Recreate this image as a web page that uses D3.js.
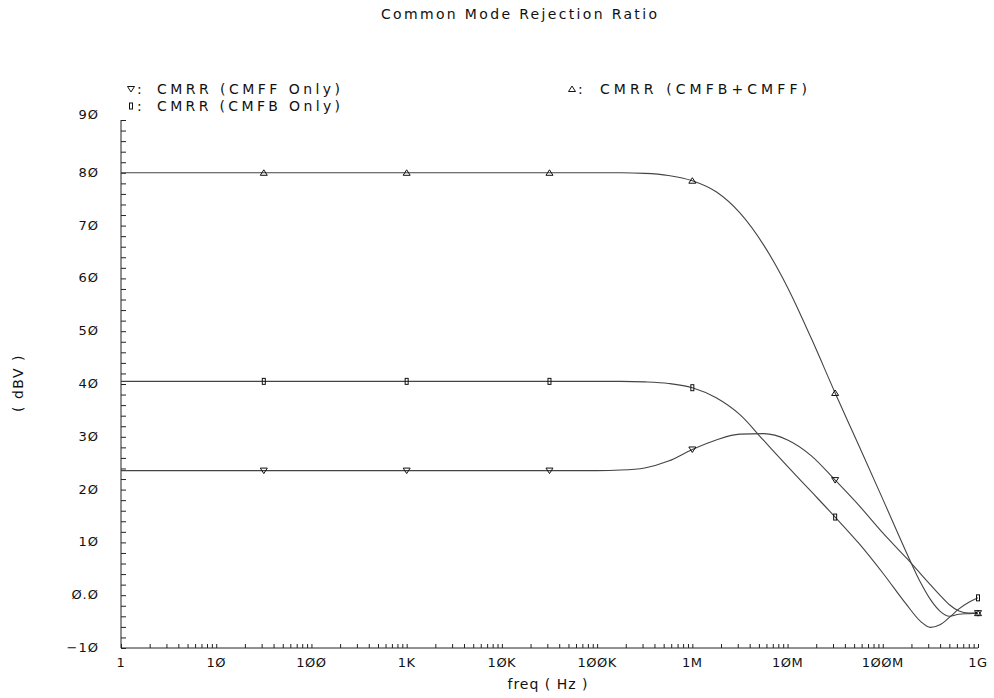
<!DOCTYPE html>
<html><head><meta charset="utf-8">
<script src="https://cdn.jsdelivr.net/npm/d3@7"></script>
<style>
html,body{margin:0;padding:0;background:#fff;}
svg{display:block;}
text{font-family:"DejaVu Sans",sans-serif;fill:#111;}
</style></head>
<body><svg id="c" width="994" height="698"></svg>
<script>
// ---- data ----
const freqs = [1, 31.6, 1e3, 3.16e4, 1e5, 1.78e5, 3.16e5, 5.62e5, 1e6, 1.78e6, 3.16e6, 5.62e6, 1e7, 1.78e7, 3.16e7, 5.62e7, 1e8, 1.78e8, 2.51e8, 3.16e8, 3.98e8, 5.01e8, 6.31e8, 7.94e8, 1e9];
const cmrrBoth = [80, 80, 80, 80, 80, 80, 79.9, 79.5, 78.5, 76.4, 72.4, 66.3, 58.3, 48.6, 38.3, 28.3, 18.2, 8.0, 2.3, -0.8, -3.0, -4.0, -3.6, -3.5, -3.4];
const cmrrCMFF = [23.6, 23.6, 23.6, 23.6, 23.6, 23.7, 24.1, 25.4, 27.6, 29.4, 30.5, 30.6, 29.4, 26.4, 21.8, 17.0, 11.8, 7.0, 4.0, 2.0, 0.0, -1.8, -3.0, -3.4, -3.4];
const cmrrCMFB = [40.5, 40.5, 40.5, 40.5, 40.5, 40.5, 40.4, 40.1, 39.3, 37.4, 34.2, 29.3, 24.4, 19.6, 14.8, 9.8, 4.2, -1.8, -5.0, -6.1, -5.6, -4.2, -2.6, -1.4, -0.5];
const markerFreqs = [31.6, 1e3, 3.16e4, 1e6, 3.16e7, 1e9];
const xTickVals = [1, 10, 100, 1e3, 1e4, 1e5, 1e6, 1e7, 1e8, 1e9];
const xTickLabels = ["1", "1Ø", "1ØØ", "1K", "1ØK", "1ØØK", "1M", "1ØM", "1ØØM", "1G"];
const yTickVals = [90, 80, 70, 60, 50, 40, 30, 20, 10, 0, -10];
const yTickLabels = ["9Ø", "8Ø", "7Ø", "6Ø", "5Ø", "4Ø", "3Ø", "2Ø", "1Ø", "Ø.Ø", "−1Ø"];
const seriesNames = ["CMRR (CMFF Only)", "CMRR (CMFB Only)", "CMRR (CMFB+CMFF)"];
const seriesMarkers = ["down", "rect", "up"];

const series = [
  {name: seriesNames[0], values: cmrrCMFF, marker: seriesMarkers[0]},
  {name: seriesNames[1], values: cmrrCMFB, marker: seriesMarkers[1]},
  {name: seriesNames[2], values: cmrrBoth, marker: seriesMarkers[2]}
];

const svg = d3.select("#c");
const x = d3.scaleLog().domain([1, 1e9]).range([121, 978]);
const y = d3.scaleLinear().domain([-10, 90]).range([648, 120]);
const lineCol = "#444";

// title
svg.append("text").attr("x", 381).attr("y", 19)
  .attr("textLength", 276).attr("lengthAdjust", "spacing")
  .style("font-size", "14px").text("Common Mode Rejection Ratio");

// axes
const yMinor = d3.range(-10, 90.1, 2);
const yAxis = d3.axisRight(y).tickValues(yMinor).tickSize(5).tickFormat("");
const gy = svg.append("g").attr("transform", "translate(121,0)").call(yAxis);
gy.select(".domain").attr("d", `M0,${y(90)}H0V${y(-10)}`);
gy.selectAll("line").attr("stroke", "#222");
gy.select(".domain").attr("stroke", "#222");

const xMinor = [];
for (let e = 0; e < 9; e++) for (let m = 1; m <= 9; m++) xMinor.push(m * Math.pow(10, e));
xMinor.push(1e9);
const xAxis = d3.axisTop(x).tickValues(xMinor).tickSize(4).tickFormat("");
const gx = svg.append("g").attr("transform", "translate(0,648)").call(xAxis);
gx.select(".domain").attr("d", `M${x(1)},0H${x(1e9)}`).attr("stroke", "#222");
gx.selectAll("line").attr("stroke", "#222");

// tick labels
svg.append("g").selectAll("text").data(yTickVals).join("text")
  .attr("x", 99).attr("y", (d, i) => y(d) + 4 - (i === 0 ? 5 : 0))
  .attr("text-anchor", "end").style("font-size", "13px").style("letter-spacing", "1px")
  .text((d, i) => yTickLabels[i]);
svg.append("g").selectAll("text").data(xTickVals).join("text")
  .attr("x", d => x(d)).attr("y", 667).attr("text-anchor", "middle")
  .style("font-size", "13px").style("letter-spacing", "0.5px")
  .text((d, i) => xTickLabels[i]);

// axis titles
svg.append("text").attr("x", 548).attr("y", 689).attr("text-anchor", "middle")
  .style("font-size", "14px").style("letter-spacing", "1px").text("freq ( Hz )");
svg.append("text").attr("transform", "translate(23,383) rotate(-90)").attr("text-anchor", "middle")
  .style("font-size", "14px").style("letter-spacing", "1.5px").text("( dBV )");

// lines
const line = d3.line().x((d, i) => x(freqs[i])).y(d => y(d)).curve(d3.curveMonotoneX);
svg.append("g").selectAll("path").data(series).join("path")
  .attr("d", s => line(s.values)).attr("fill", "none").attr("stroke", lineCol).attr("stroke-width", 1.1);

function drawMarker(g, type, cx, cy) {
  if (type === "up") {
    g.append("path").attr("d", `M${cx - 3.5},${cy + 2.5}L${cx},${cy - 3}L${cx + 3.5},${cy + 2.5}Z`);
  } else if (type === "down") {
    g.append("path").attr("d", `M${cx - 3.5},${cy - 2.5}L${cx},${cy + 3}L${cx + 3.5},${cy - 2.5}Z`);
  } else {
    g.append("rect").attr("x", cx - 1.5).attr("y", cy - 3).attr("width", 3).attr("height", 6);
  }
}
const mg = svg.append("g").attr("fill", "none").attr("stroke", "#111").attr("stroke-width", 1);
series.forEach(s => {
  markerFreqs.forEach(f => {
    const i = freqs.indexOf(f);
    drawMarker(mg, s.marker, x(freqs[i]), y(s.values[i]));
  });
});

// legend
const legendPos = [[131, 90, 157, 183], [131, 107, 157, 183], [572, 90, 600, 207]];
series.forEach((s, k) => {
  const [lx, ly, tx, tw] = legendPos[k];
  drawMarker(mg, s.marker, lx, ly - 1);
  svg.append("text").attr("x", lx + 6).attr("y", ly + 4).style("font-size", "14px").text(":");
  svg.append("text").attr("x", tx).attr("y", ly + 4).style("font-size", "14px")
    .attr("textLength", tw).attr("lengthAdjust", "spacing").text(s.name);
});
</script></body></html>
